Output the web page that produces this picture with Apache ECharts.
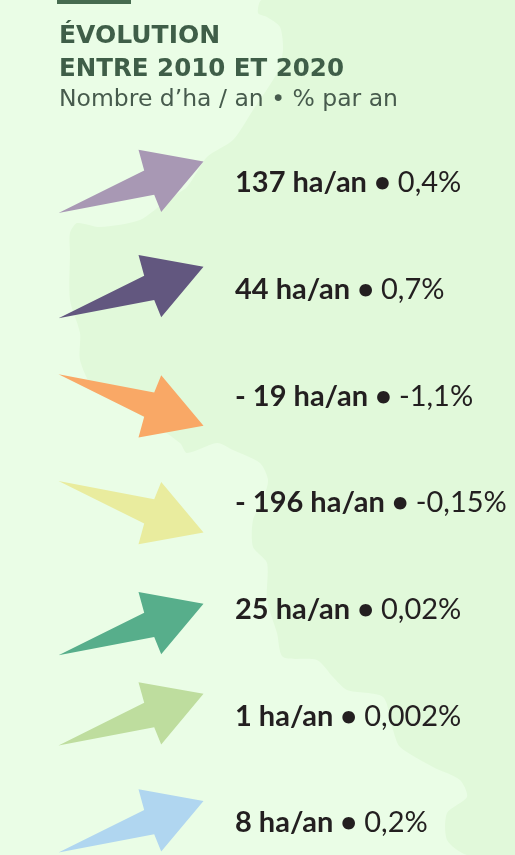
<!DOCTYPE html>
<html><head><meta charset="utf-8">
<script src="https://cdn.jsdelivr.net/npm/echarts@6/dist/echarts.min.js"></script>
<style>html,body{margin:0;padding:0;background:#eafde6}#c{width:515px;height:855px}</style>
</head><body><div id="c"></div>
<script>
// ---- data ----
const categories = ['1', '2', '3', '4', '5', '6', '7'];
const haPerYear = [137, 44, -19, -196, 25, 1, 8];
const pctPerYear = [0.4, 0.7, -1.1, -0.15, 0.02, 0.002, 0.2];

// ---- styles ----
const arrowColors = ['#a898b4', '#62577f', '#f9a866', '#e9ec9e', '#57ae8b', '#bedd9e', '#b0d6f0'];
const arrowNudge = [-1.5, -3, 9.5, 9.5, 14, -2.5, -2];
const upArrow = [[-72.5, 31.6], [13.2, -11], [7.5, -31.7], [72.5, -20], [30.2, 30.6], [23.2, 13.3]];
const textFont = 'Lato';
const titleFont = '"DejaVu Sans"';

function fmtHa(v) { return (v < 0 ? '- ' + Math.abs(v) : String(v)) + ' ha/an • '; }
function fmtPct(v) { return String(v).replace('.', ',') + '%'; }

const chart = echarts.init(document.getElementById('c'), null, { renderer: 'canvas' });

const mapShape = [[262,0],[515,0],[515,855],[467,855],[447,840],[447,813],[467,797],[460,780],[433,767],[400,747],[393,730],[383,697],[347,690],[333,677],[317,660],[283,657],[277,633],[267,600],[267,563],[253,547],[253,520],[263,500],[268,480],[260,463],[233,450],[217,443],[187,453],[180,443],[140,415],[93,387],[80,360],[80,333],[70,300],[70,253],[70,233],[77,223],[100,227],[140,220],[167,200],[187,187],[207,157],[233,140],[253,110],[277,73],[283,50],[280,27],[267,17],[258,13]];

chart.setOption({
  backgroundColor: '#eafde6',
  animation: false,
  grid: { left: 0, right: 0, top: 183, bottom: 32 },
  xAxis: { type: 'value', min: 0, max: 1, show: false },
  yAxis: { type: 'category', data: categories, inverse: true, boundaryGap: false, show: false },
  graphic: [
    { type: 'polygon', z: -10, shape: { points: mapShape, smooth: 0.25 }, style: { fill: '#e1f9da' } },
    { type: 'rect', shape: { x: 57, y: 0, width: 74, height: 4 }, style: { fill: '#476b50' } },
    { type: 'text', left: 59, top: 24, style: { text: 'ÉVOLUTION', font: '700 25px ' + titleFont, fill: '#3f5e48' } },
    { type: 'text', left: 59, top: 57, style: { text: 'ENTRE 2010 ET 2020', font: '700 24.5px ' + titleFont, fill: '#3f5e48' } },
    { type: 'text', left: 59, top: 88, style: { text: 'Nombre d’ha / an • % par an', font: '400 23.5px ' + titleFont, fill: '#475b4d' } }
  ],
  series: [{
    type: 'custom',
    data: categories.map((c, i) => [0, i, haPerYear[i], pctPerYear[i]]),
    encode: { x: 0, y: 1 },
    renderItem: function (params, api) {
      const i = params.dataIndex;
      const ha = api.value(2);
      const pct = api.value(3);
      const p = api.coord([0, api.value(1)]);
      const cs = params.coordSys;
      const cx = cs.x + 131, cy = p[1] + arrowNudge[i];
      const sy = ha >= 0 ? 1 : -1;
      const pts = upArrow.map(q => [cx + q[0], cy + q[1] * sy]);
      return {
        type: 'group',
        children: [
          { type: 'polygon', shape: { points: pts }, style: { fill: arrowColors[i] } },
          { type: 'text', x: cs.x + 235, y: p[1],
            style: {
              text: '{b|' + fmtHa(ha) + '}{n|' + fmtPct(pct) + '}',
              verticalAlign: 'middle', align: 'left',
              rich: {
                b: { fontFamily: textFont, fontWeight: 'bold', fontSize: 29, fill: '#231f20' },
                n: { fontFamily: textFont, fontWeight: 'normal', fontSize: 29, fill: '#231f20' }
              }
            } }
        ]
      };
    }
  }]
});
</script></body></html>
